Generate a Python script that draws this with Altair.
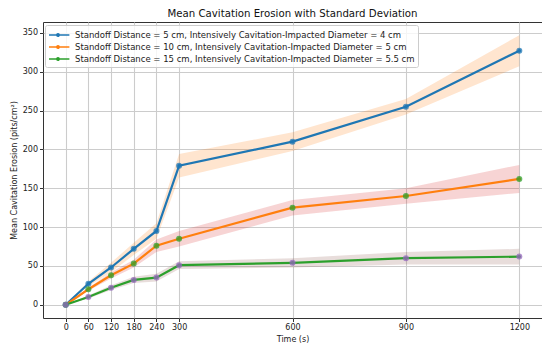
import altair as alt
import pandas as pd

times = [0, 60, 120, 180, 240, 300, 600, 900, 1200]
series_names = [
    "Standoff Distance = 5 cm, Intensively Cavitation-Impacted Diameter = 4 cm",
    "Standoff Distance = 10 cm, Intensively Cavitation-Impacted Diameter = 5 cm",
    "Standoff Distance = 15 cm, Intensively Cavitation-Impacted Diameter = 5.5 cm",
]
mean_5cm = [0, 27, 48, 72, 95, 179, 210, 255, 327]
std_5cm = [0, 3, 6, 8, 10, 15, 12, 10, 20]
mean_10cm = [0, 20, 38, 53, 76, 85, 125, 140, 162]
std_10cm = [0, 2, 4, 5, 8, 10, 10, 10, 18]
mean_15cm = [0, 10, 22, 32, 35, 51, 54, 60, 62]
std_15cm = [0, 2, 3, 4, 5, 5, 6, 8, 10]

line_colors = ["#1f77b4", "#ff7f0e", "#2ca02c"]
band_colors = ["#ff7f0e", "#d62728", "#8c564b"]
point_colors = ["#1f77b4", "#2ca02c", "#9467bd"]
x_ticks = [0, 60, 120, 180, 240, 300, 600, 900, 1200]
y_ticks = [0, 50, 100, 150, 200, 250, 300, 350]

rows = []
for name, means, stds in zip(series_names, [mean_5cm, mean_10cm, mean_15cm], [std_5cm, std_10cm, std_15cm]):
    for t, m, s in zip(times, means, stds):
        rows.append({"time": t, "mean": m, "lo": m - s, "hi": m + s, "series": name})
df = pd.DataFrame(rows)

xscale = alt.Scale(domain=[-60, 1260], nice=False, zero=False)
yscale = alt.Scale(domain=[-17, 364], nice=False, zero=False)

x = alt.X("time:Q", scale=xscale, title="Time (s)",
          axis=alt.Axis(values=x_ticks, format="d"))
y = alt.Y("mean:Q", scale=yscale, title="Mean Cavitation Erosion (pits/cm²)",
          axis=alt.Axis(values=y_ticks, format="d"))

base = alt.Chart(df)

bands = base.mark_area(opacity=0.2).encode(
    x=x,
    y=alt.Y("lo:Q", scale=yscale, title="Mean Cavitation Erosion (pits/cm²)",
            axis=alt.Axis(values=y_ticks, format="d")),
    y2="hi:Q",
    color=alt.Color("series:N", scale=alt.Scale(domain=series_names, range=band_colors), legend=None),
    detail="series:N",
)

legend_symbol = "M-1,0H2.4M0.5,0.2A0.2,0.2 0 1,1 0.5,-0.2A0.2,0.2 0 1,1 0.5,0.2"

lines = base.mark_line(strokeWidth=2.2, point=alt.OverlayMarkDef(size=12, filled=True)).encode(
    x=x, y=y,
    color=alt.Color("series:N", scale=alt.Scale(domain=series_names, range=line_colors),
                    legend=alt.Legend(title=None, orient="none", legendX=2, legendY=3,
                                      symbolType=legend_symbol, symbolSize=144, symbolStrokeWidth=1.5,
                                      symbolFillColor="transparent",
                                      labelFontSize=8.5, labelLimit=0, rowPadding=0, labelOffset=13,
                                      padding=3, fillColor="rgba(255,255,255,0.8)",
                                      strokeColor="#cccccc", cornerRadius=2, labelColor="#222222")),
)

points = base.mark_circle(size=36, opacity=0.75).encode(
    x=x, y=y,
    color=alt.Color("series:N", scale=alt.Scale(domain=series_names, range=point_colors), legend=None),
)

chart = alt.layer(bands, lines, points).resolve_scale(color="independent").properties(
    width=499, height=296,
    title=alt.TitleParams("Mean Cavitation Erosion with Standard Deviation", fontSize=10.2,
                          font="DejaVu Sans", fontWeight="normal", color="#111111", offset=3),
    padding={"left": 35, "top": 14, "right": 0, "bottom": 27},
    autosize=alt.AutoSizeParams(type="none"),
).configure_view(stroke="#333333", strokeWidth=1).configure_axis(
    labelFont="DejaVu Sans", titleFont="DejaVu Sans", labelFontSize=8, titleFontSize=8,
    titleFontWeight="normal", labelColor="#222222", titleColor="#222222",
    tickColor="#333333", tickSize=3.5, domain=False,
    gridColor="#cccccc", gridWidth=1.1, labelPadding=2,
).configure_axisY(titlePadding=4).configure_axisX(titlePadding=4).configure_legend(
    labelFont="DejaVu Sans")

chart.save("out.html", embed_options={"renderer": "svg", "actions": False})
